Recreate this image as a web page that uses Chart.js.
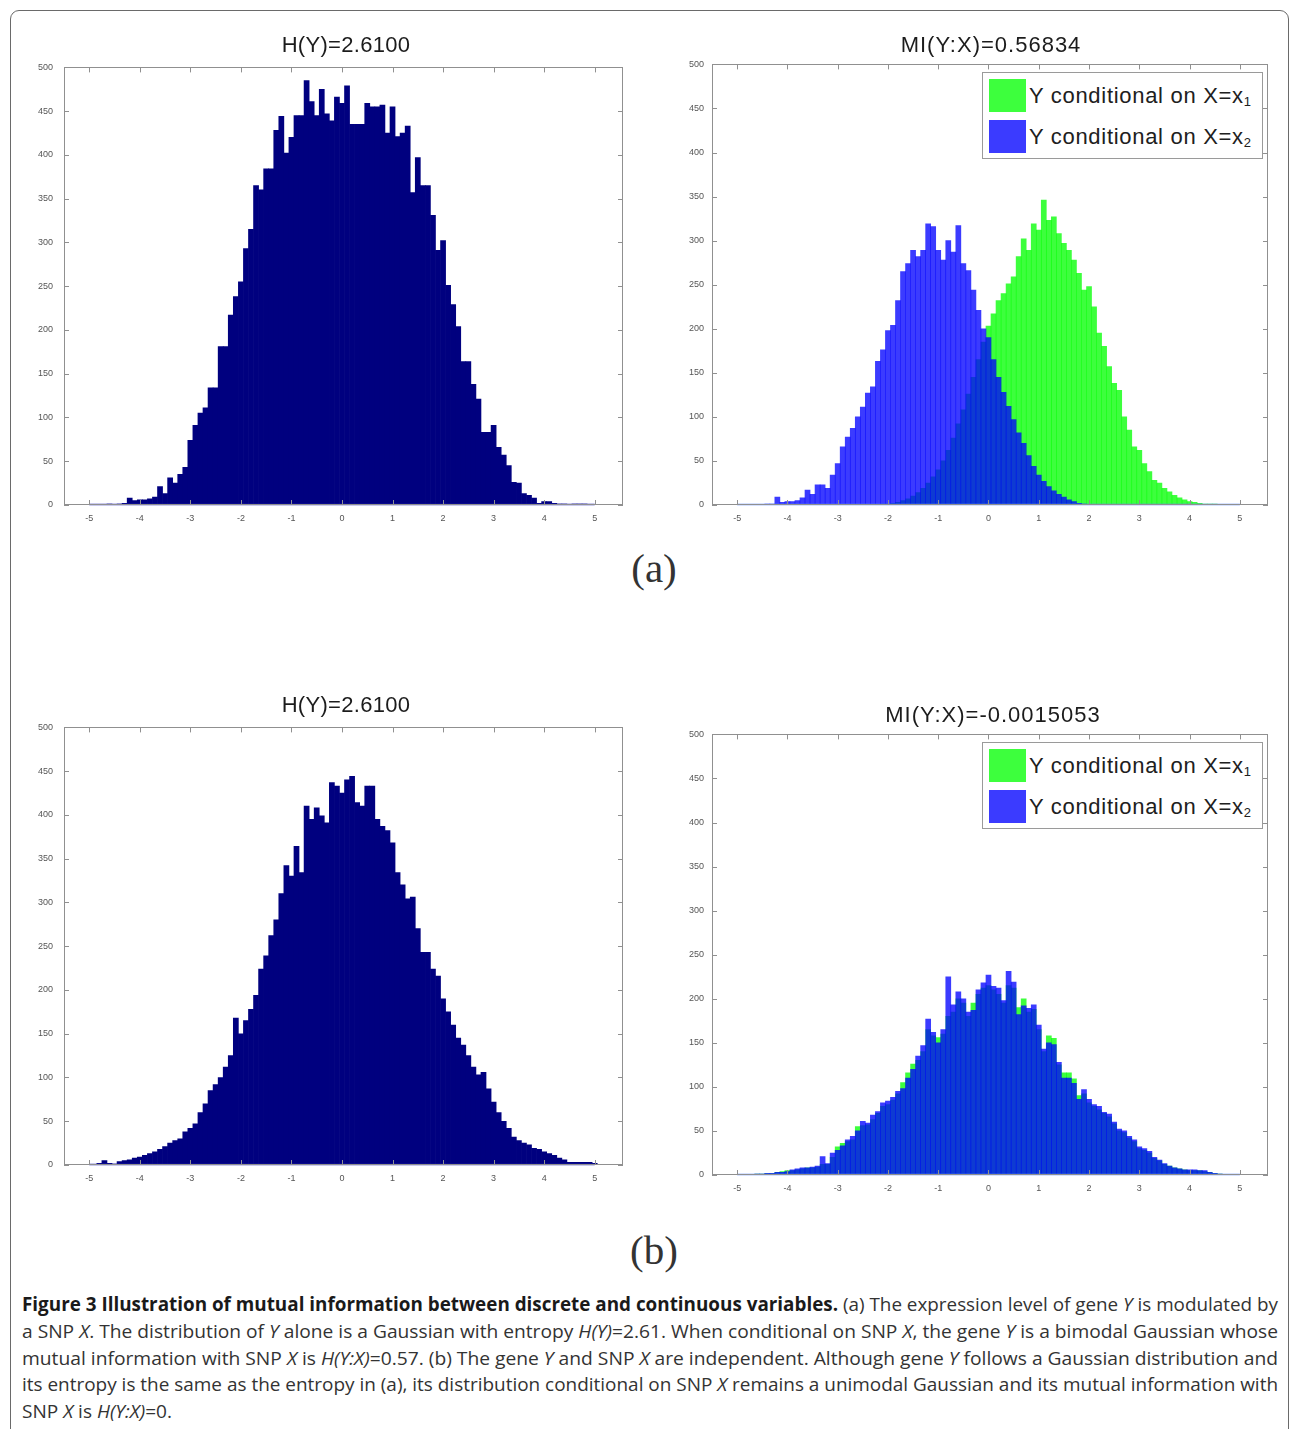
<!DOCTYPE html>
<html>
<head>
<meta charset="utf-8">
<script src="https://cdn.jsdelivr.net/npm/chart.js@4.4.1/dist/chart.umd.min.js"></script>
<style>
html,body{margin:0;padding:0;background:#fff;}
body{width:1290px;height:1429px;overflow:hidden;position:relative;font-family:"Liberation Sans",Arial,sans-serif;}
.frame{position:absolute;left:10px;top:10px;width:1277px;height:1500px;border:1px solid #6a6a6a;border-radius:9px;}
canvas{position:absolute;}
.title{position:absolute;font-size:22px;color:#1c1c1c;transform:translate(-50%,-50%);white-space:nowrap;}
.title.h{letter-spacing:0.3px;}
.title.mi{letter-spacing:1px;}
.legend{position:absolute;left:982px;width:279px;height:85px;border:1px solid #9a9a9a;background:#fff;}
.sw{position:absolute;left:6px;width:37px;height:33px;}
.lt{position:absolute;left:46px;font-size:22px;letter-spacing:0.7px;line-height:33px;height:33px;color:#202020;white-space:nowrap;}
.lt sub{font-size:13px;position:relative;top:3px;vertical-align:baseline;line-height:0;letter-spacing:0;}
.panel{position:absolute;font-family:"Liberation Serif","Times New Roman",serif;font-size:41px;color:#333;transform:translate(-50%,-50%);}
.caption{position:absolute;left:22px;top:1291px;width:1256px;font-family:"Open Sans",sans-serif;font-size:19px;color:#333;}
.ln{height:26.75px;line-height:26.75px;white-space:nowrap;}
.ln span{display:inline-block;transform-origin:0 50%;}
.ln b{color:#1a1a1a;}
</style>
</head>
<body>
<div class="frame"></div>

<canvas id="cTL" width="626" height="489" style="left:14px;top:51px;"></canvas>
<canvas id="cTR" width="626" height="489" style="left:660px;top:51px;"></canvas>
<canvas id="cBL" width="626" height="489" style="left:14px;top:711px;"></canvas>
<canvas id="cBR" width="626" height="489" style="left:660px;top:721px;"></canvas>

<div class="title h" style="left:346px;top:45px;">H(Y)=2.6100</div>
<div class="title mi" style="left:991px;top:45px;">MI(Y:X)=0.56834</div>
<div class="title h" style="left:346px;top:705px;">H(Y)=2.6100</div>
<div class="title mi" style="left:993px;top:715px;">MI(Y:X)=-0.0015053</div>

<div class="legend" style="top:72px;">
  <div class="sw" style="top:6px;background:#3dff3d;"></div>
  <div class="lt" style="top:6px;">Y conditional on X=x<sub>1</sub></div>
  <div class="sw" style="top:47px;background:#3b3bff;"></div>
  <div class="lt" style="top:47px;">Y conditional on X=x<sub>2</sub></div>
</div>
<div class="legend" style="top:742px;">
  <div class="sw" style="top:6px;background:#3dff3d;"></div>
  <div class="lt" style="top:6px;">Y conditional on X=x<sub>1</sub></div>
  <div class="sw" style="top:47px;background:#3b3bff;"></div>
  <div class="lt" style="top:47px;">Y conditional on X=x<sub>2</sub></div>
</div>

<div class="panel" style="left:654px;top:568px;">(a)</div>
<div class="panel" style="left:654px;top:1250px;">(b)</div>

<div class="caption">
  <div class="ln"><span><b>Figure 3 Illustration of mutual information between discrete and continuous variables.</b> (a) The expression level of gene <i>Y</i> is modulated by</span></div>
  <div class="ln"><span>a SNP <i>X</i>. The distribution of <i>Y</i> alone is a Gaussian with entropy <i>H(Y)</i>=2.61. When conditional on SNP <i>X</i>, the gene <i>Y</i> is a bimodal Gaussian whose</span></div>
  <div class="ln"><span>mutual information with SNP <i>X</i> is <i>H(Y:X)</i>=0.57. (b) The gene <i>Y</i> and SNP <i>X</i> are independent. Although gene <i>Y</i> follows a Gaussian distribution and</span></div>
  <div class="ln"><span>its entropy is the same as the entropy in (a), its distribution conditional on SNP <i>X</i> remains a unimodal Gaussian and its mutual information with</span></div>
  <div class="ln"><span>SNP <i>X</i> is <i>H(Y:X)</i>=0.</span></div>
</div>

<script>
// ---------- data ----------
const bins = [
  -5.0,-4.9,-4.8,-4.7,-4.6,-4.5,-4.4,-4.3,-4.2,-4.1,
  -4.0,-3.9,-3.8,-3.7,-3.6,-3.5,-3.4,-3.3,-3.2,-3.1,
  -3.0,-2.9,-2.8,-2.7,-2.6,-2.5,-2.4,-2.3,-2.2,-2.1,
  -2.0,-1.9,-1.8,-1.7,-1.6,-1.5,-1.4,-1.3,-1.2,-1.1,
  -1.0,-0.9,-0.8,-0.7,-0.6,-0.5,-0.4,-0.3,-0.2,-0.1,
  0.0,0.1,0.2,0.3,0.4,0.5,0.6,0.7,0.8,0.9,
  1.0,1.1,1.2,1.3,1.4,1.5,1.6,1.7,1.8,1.9,
  2.0,2.1,2.2,2.3,2.4,2.5,2.6,2.7,2.8,2.9,
  3.0,3.1,3.2,3.3,3.4,3.5,3.6,3.7,3.8,3.9,
  4.0,4.1,4.2,4.3,4.4,4.5,4.6,4.7,4.8,4.9,5.0
];
const xTickValues = [-5,-4,-3,-2,-1,0,1,2,3,4,5];
const yTickValues = [0,50,100,150,200,250,300,350,400,450,500];

// (a) left: Y alone
const countsA = [
  0,0,0,0,1,0,1,2,8,5,
  6,6,7,9,21,13,31,25,35,43,
  74,91,105,111,134,134,181,181,217,238,
  255,293,315,365,360,384,384,428,444,402,
  420,445,445,485,461,445,475,447,439,466,
  459,479,435,435,435,459,455,455,457,425,
  455,421,425,433,357,397,365,365,331,291,
  302,251,229,204,164,164,138,121,83,83,
  91,66,57,45,26,25,13,11,8,2,
  4,4,2,1,1,0,1,1,1,0,0
];
// (a) right: Y | X=x1 (green)
const countsA_x1 = [
  0,0,0,0,0,0,0,0,0,0,
  0,0,0,0,0,0,0,0,0,0,
  0,0,0,0,0,0,0,0,0,1,
  1,2,3,5,7,10,14,19,25,32,
  40,50,62,76,92,108,126,145,165,185,
  203,217,232,240,251,259,282,302,289,319,
  312,346,323,327,308,297,289,278,263,244,
  248,225,195,180,157,138,130,100,85,66,
  62,47,38,28,25,19,15,11,8,6,
  4,3,2,1,1,1,0,0,0,0,0
];
// (a) right: Y | X=x2 (blue)
const countsA_x2 = [
  0,0,0,0,0,0,1,1,9,3,
  4,4,5,8,17,12,23,23,19,34,
  47,66,77,87,100,111,127,134,163,176,
  198,204,232,265,274,289,282,289,319,316,
  289,278,300,287,317,274,266,244,221,200,
  190,165,145,128,112,97,82,70,56,44,
  34,27,21,16,12,9,6,4,2,1,
  0,0,0,0,0,0,0,0,0,0,
  0,0,0,0,0,0,0,0,0,0,
  0,0,0,0,0,0,0,0,0,0,0
];
// (b) left: Y alone
const countsB = [
  0,0,2,5,2,1,4,5,6,8,
  9,11,13,15,18,21,25,28,30,38,
  42,47,60,70,85,92,100,112,125,168,
  150,165,178,194,224,239,262,280,310,342,
  330,364,334,410,395,408,399,391,437,433,
  425,440,444,414,410,433,433,395,387,382,
  368,334,320,304,306,270,243,243,224,216,
  190,175,160,145,137,125,112,103,106,87,
  72,60,50,42,32,28,25,23,19,18,
  15,13,11,8,6,3,3,3,3,3,2
];
// (b) right: Y | X=x1 (green)
const countsB_x1 = [
  0,0,0,0,1,1,2,2,3,4,
  5,5,6,7,8,8,9,12,12,20,
  32,36,38,40,55,56,57,63,70,78,
  80,85,92,105,116,126,130,140,165,158,
  156,160,180,185,200,195,180,195,205,212,
  215,210,205,195,215,212,190,200,185,188,
  165,140,158,155,125,116,116,109,90,92,
  82,78,74,70,66,58,50,48,42,38,
  30,28,25,19,16,12,10,8,7,6,
  5,5,5,4,3,2,1,0,0,0,0
];
// (b) right: Y | X=x2 (blue)
const countsB_x2 = [
  0,0,0,0,1,1,2,2,3,3,
  4,6,7,8,8,9,10,21,13,25,
  28,33,40,44,50,61,59,68,72,82,
  84,88,95,98,110,120,135,147,177,162,
  150,165,225,193,208,200,185,187,210,218,
  227,214,212,198,231,219,182,192,189,193,
  170,143,150,148,128,110,110,104,86,97,
  86,80,78,71,69,60,52,50,44,40,
  32,30,27,20,17,13,10,8,7,6,
  6,6,5,5,3,2,1,0,0,0,0
];

const seriesLabels = ['Y conditional on X=x1', 'Y conditional on X=x2', 'Y'];

// ---------- helpers ----------
function toPoints(arr){ return bins.map((b,i)=>({x:b, y:arr[i] || 0})); }

const matlabBox = {
  id:'matlabBox',
  afterDatasetsDraw(chart, args, opts){
    const {ctx, chartArea:a, scales:{x,y}} = chart;
    ctx.save();
    // zero line of the histogram
    ctx.strokeStyle = opts.base || '#2030c0';
    ctx.lineWidth = 1.5;
    ctx.beginPath();
    ctx.moveTo(x.getPixelForValue(bins[0]), y.getPixelForValue(0) - 0.5);
    ctx.lineTo(x.getPixelForValue(bins[bins.length-1]), y.getPixelForValue(0) - 0.5);
    ctx.stroke();
    // box
    ctx.strokeStyle = '#909090';
    ctx.lineWidth = 1;
    ctx.strokeRect(Math.round(a.left)+0.5, Math.round(a.top)+0.5, Math.round(a.right-a.left)-1, Math.round(a.bottom-a.top)-1);
    const L = 5;
    ctx.beginPath();
    x.ticks.forEach(t=>{
      const px = Math.round(x.getPixelForValue(t.value))+0.5;
      ctx.moveTo(px, a.bottom); ctx.lineTo(px, a.bottom-L);
      ctx.moveTo(px, a.top); ctx.lineTo(px, a.top+L);
    });
    y.ticks.forEach(t=>{
      const py = Math.round(y.getPixelForValue(t.value))+0.5;
      ctx.moveTo(a.left, py); ctx.lineTo(a.left+L, py);
      ctx.moveTo(a.right, py); ctx.lineTo(a.right-L, py);
    });
    ctx.stroke();
    ctx.restore();
  }
};

function makeChart(id, datasets, opt){
  return new Chart(document.getElementById(id), {
    type:'bar',
    data:{datasets},
    options:{
      responsive:false,
      animation:false,
      events:[],
      layout:{padding:{top:13,right:opt.right,left:0,bottom:0}},
      datasets:{bar:{barPercentage:1,categoryPercentage:1,grouped:false,borderWidth:0}},
      plugins:{
        legend:{display:false},
        title:{display:false},
        tooltip:{enabled:false},
        matlabBox:{base:opt.base}
      },
      scales:{
        x:{
          type:'linear', min:-5.5, max:5.56, offset:false,
          grid:{display:false, drawTicks:false, offset:false}, border:{display:false},
          afterBuildTicks:(s)=>{ s.ticks = xTickValues.map(v=>({value:v})); },
          afterFit:(s)=>{ s.height = 35; },
          ticks:{padding:8, autoSkip:false, maxRotation:0, color:'#555',
                 font:{size:9, family:'"Liberation Sans", Arial, sans-serif'}}
        },
        y:{
          type:'linear', min:0, max:500,
          grid:{display:false, drawTicks:false}, border:{display:false},
          afterBuildTicks:(s)=>{ s.ticks = yTickValues.map(v=>({value:v})); },
          afterFit:(s)=>{ s.width = opt.left; },
          ticks:{padding:opt.tpad, autoSkip:false, color:'#555',
                 font:{size:9, family:'"Liberation Sans", Arial, sans-serif'}}
        }
      }
    },
    plugins:[matlabBox]
  });
}

const navy = '#00007f';
const green = 'rgba(0,255,0,0.76)';
const blue = 'rgba(0,0,255,0.77)';

makeChart('cTL', [
  {label:seriesLabels[2], data:toPoints(countsA), backgroundColor:navy}
], {left:50, right:17, tpad:11, base:'#2a2ab8'});

makeChart('cTR', [
  {label:seriesLabels[0], data:toPoints(countsA_x1), backgroundColor:green, order:1},
  {label:seriesLabels[1], data:toPoints(countsA_x2), backgroundColor:blue, order:0}
], {left:52, right:18, tpad:8, base:'#5a86ff'});

makeChart('cBL', [
  {label:seriesLabels[2], data:toPoints(countsB), backgroundColor:navy}
], {left:50, right:17, tpad:11, base:'#2a2ab8'});

makeChart('cBR', [
  {label:seriesLabels[0], data:toPoints(countsB_x1), backgroundColor:green, order:1},
  {label:seriesLabels[1], data:toPoints(countsB_x2), backgroundColor:blue, order:0}
], {left:52, right:18, tpad:8, base:'#5a86ff'});

// ---------- caption fitting (justify each line to the text width) ----------
(function(){
  const target = 1256;
  const spans = Array.from(document.querySelectorAll('.ln span'));
  const scales = [];
  spans.forEach((sp,i)=>{
    const w = sp.getBoundingClientRect().width;
    if (i < spans.length-1) { const s = target/w; scales.push(s); sp.style.transform = 'scaleX('+s+')'; }
  });
  const avg = scales.reduce((a,b)=>a+b,0)/scales.length;
  spans[spans.length-1].style.transform = 'scaleX('+avg+')';
})();
</script>
</body>
</html>
